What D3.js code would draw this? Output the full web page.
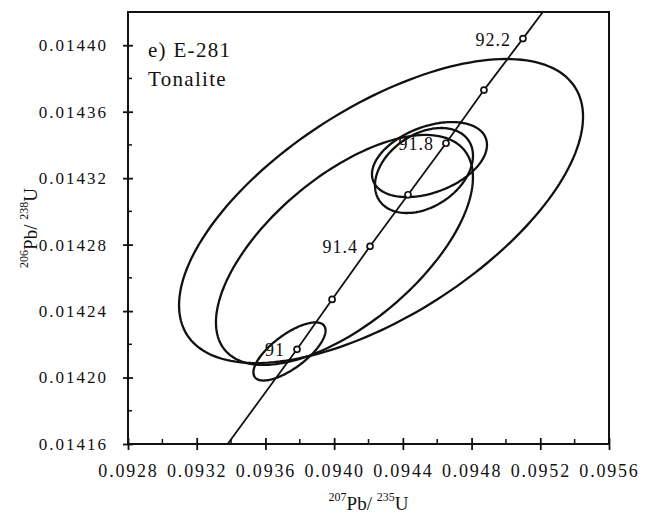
<!DOCTYPE html>
<html>
<head>
<meta charset="utf-8">
<script src="https://cdn.jsdelivr.net/npm/d3@7"></script>
<style>
  html, body { margin: 0; padding: 0; background: #fff; }
  svg text { font-family: "Liberation Serif", "Times New Roman", Times, serif !important; fill: #111; }
</style>
</head>
<body>
<svg id="chart" width="654" height="516"></svg>
<script>
// Axis ticks
const xTicks = [0.0928, 0.0932, 0.0936, 0.0940, 0.0944, 0.0948, 0.0952, 0.0956];
const xTickLabels = ["0.0928", "0.0932", "0.0936", "0.0940", "0.0944", "0.0948", "0.0952", "0.0956"];
const yTicks = [0.01416, 0.01420, 0.01424, 0.01428, 0.01432, 0.01436, 0.01440];
const yTickLabels = ["0.01416", "0.01420", "0.01424", "0.01428", "0.01432", "0.01436", "0.01440"];

// Concordia age markers (Ma) and their ratio coordinates
const concordiaAges = [91.0, 91.2, 91.4, 91.6, 91.8, 92.0, 92.2];
const concordiaLabels = ["91", "", "91.4", "", "91.8", "", "92.2"];
const concordiaX = [0.093784, 0.093988, 0.094209, 0.094430, 0.094651, 0.094872, 0.095099];
const concordiaY = [0.014217, 0.014247, 0.014279, 0.014310, 0.014341, 0.014373, 0.014404];
// Concordia curve ends beyond the markers
const concordiaStart = [0.093380, 0.014160];
const concordiaEnd = [0.095215, 0.014420];

// Error ellipses: centre, half-widths and correlation
const ellipseX   = [0.094273, 0.094060, 0.094555, 0.094523, 0.093740];
const ellipseSX  = [0.0011759, 0.000748, 0.0003347, 0.0002852, 0.0002100];
const ellipseY   = [0.0143002, 0.0142768, 0.0143312, 0.0143246, 0.0142157];
const ellipseSY  = [0.0000915, 0.0000692, 0.00002257, 0.00002558, 0.00001750];
const ellipseRho = [0.62, 0.63, 0.39, 0.35, 0.72];

const sampleTitle = ["e) E-281", "Tonalite"];

const FONT = "Liberation Serif, Times New Roman, serif";
const svg = d3.select("#chart");
const margin = { left: 128, right: 45, top: 12, bottom: 72 };
const W = 654, H = 516;
const x = d3.scaleLinear().domain([0.0928, 0.0956]).range([margin.left, W - margin.right]);
const y = d3.scaleLinear().domain([0.01416, 0.01442]).range([H - margin.bottom, margin.top]);

svg.append("defs").append("clipPath").attr("id", "plot-clip")
  .append("rect")
  .attr("x", x.range()[0]).attr("y", y.range()[1])
  .attr("width", x.range()[1] - x.range()[0])
  .attr("height", y.range()[0] - y.range()[1]);

const plot = svg.append("g").attr("clip-path", "url(#plot-clip)");

// Concordia curve
const curvePts = [concordiaStart]
  .concat(concordiaX.map((v, i) => [v, concordiaY[i]]))
  .concat([concordiaEnd]);
plot.append("path")
  .datum(curvePts)
  .attr("d", d3.line().x(d => x(d[0])).y(d => y(d[1])))
  .attr("fill", "none").attr("stroke", "#111").attr("stroke-width", 1.8);

// Age labels
svg.append("g").selectAll("text")
  .data(concordiaAges.map((a, i) => ({ a, i })).filter(d => concordiaLabels[d.i] !== ""))
  .join("text")
  .attr("x", d => x(concordiaX[d.i]) - 12)
  .attr("y", d => y(concordiaY[d.i]) + 7)
  .attr("text-anchor", "end")
  .attr("font-family", FONT)
  .attr("font-size", 18)
  .attr("letter-spacing", 1)
  .text(d => concordiaLabels[d.i]);

// Error ellipses
const steps = d3.range(0, 361, 2).map(d => d * Math.PI / 180);
ellipseX.forEach((cx, i) => {
  const sx = ellipseSX[i], sy = ellipseSY[i], r = ellipseRho[i];
  const pts = steps.map(t => [
    cx + sx * Math.cos(t),
    ellipseY[i] + sy * (r * Math.cos(t) + Math.sqrt(1 - r * r) * Math.sin(t))
  ]);
  plot.append("path")
    .datum(pts)
    .attr("d", d3.line().x(d => x(d[0])).y(d => y(d[1])).curve(d3.curveLinearClosed))
    .attr("fill", "none").attr("stroke", "#111").attr("stroke-width", 2.3);
});

// Age markers
svg.append("g").selectAll("circle")
  .data(concordiaAges.map((a, i) => i))
  .join("circle")
  .attr("cx", i => x(concordiaX[i]))
  .attr("cy", i => y(concordiaY[i]))
  .attr("r", 3)
  .attr("fill", "#fff").attr("stroke", "#111").attr("stroke-width", 1.7);

// Frame
svg.append("rect")
  .attr("x", x.range()[0]).attr("y", y.range()[1])
  .attr("width", x.range()[1] - x.range()[0])
  .attr("height", y.range()[0] - y.range()[1])
  .attr("fill", "none").attr("stroke", "#111").attr("stroke-width", 2);

// X axis: major ticks cross the frame, minor ticks point inward
const xAxis = svg.append("g").attr("transform", `translate(0,${y.range()[0]})`)
  .call(d3.axisBottom(x).tickValues(xTicks).tickSize(0).tickFormat((d, i) => xTickLabels[i]).tickPadding(20));
xAxis.attr("font-family", FONT);
xAxis.select(".domain").remove();
xAxis.selectAll("text").attr("font-size", 18).attr("letter-spacing", 1.8);
xAxis.selectAll(".tick").append("line").attr("y1", -6).attr("y2", 6)
  .attr("stroke", "#111").attr("stroke-width", 1.8);
const xMinor = d3.range(0, xTicks.length - 1).map(i => (xTicks[i] + xTicks[i + 1]) / 2);
svg.append("g").selectAll("line").data(xMinor).join("line")
  .attr("x1", d => x(d)).attr("x2", d => x(d))
  .attr("y1", y.range()[0]).attr("y2", y.range()[0] - 5)
  .attr("stroke", "#111").attr("stroke-width", 1.5);

// Y axis
const yAxis = svg.append("g").attr("transform", `translate(${x.range()[0]},0)`)
  .call(d3.axisLeft(y).tickValues(yTicks).tickSize(0).tickFormat((d, i) => yTickLabels[i]).tickPadding(20));
yAxis.attr("font-family", FONT);
yAxis.select(".domain").remove();
yAxis.selectAll("text").attr("font-size", 17).attr("letter-spacing", 2);
yAxis.selectAll(".tick").append("line").attr("x1", -5).attr("x2", 5)
  .attr("stroke", "#111").attr("stroke-width", 1.8);
const yMinor = d3.range(0, yTicks.length - 1).map(i => (yTicks[i] + yTicks[i + 1]) / 2);
svg.append("g").selectAll("line").data(yMinor).join("line")
  .attr("x1", x.range()[0]).attr("x2", x.range()[0] + 4)
  .attr("y1", d => y(d)).attr("y2", d => y(d))
  .attr("stroke", "#111").attr("stroke-width", 1.5);

// Sample name
svg.append("g").selectAll("text").data(sampleTitle).join("text")
  .attr("x", 148).attr("y", (d, i) => 57 + i * 29)
  .attr("font-family", FONT)
  .attr("font-size", 21).attr("letter-spacing", 1.3)
  .text(d => d);

// Axis titles with superscript mass numbers
const xTitle = svg.append("text").attr("x", (x.range()[0] + x.range()[1]) / 2).attr("y", 510)
  .attr("text-anchor", "middle").attr("font-family", FONT).attr("font-size", 19);
xTitle.append("tspan").attr("font-size", 12).attr("dy", -9).text("207");
xTitle.append("tspan").attr("dy", 9).text("Pb/ ");
xTitle.append("tspan").attr("font-size", 12).attr("dy", -9).text("235");
xTitle.append("tspan").attr("dy", 9).text("U");

const yTitle = svg.append("text")
  .attr("transform", `translate(37,${(y.range()[0] + y.range()[1]) / 2}) rotate(-90)`)
  .attr("text-anchor", "middle").attr("font-family", FONT).attr("font-size", 19);
yTitle.append("tspan").attr("font-size", 12).attr("dy", -9).text("206");
yTitle.append("tspan").attr("dy", 9).text("Pb/ ");
yTitle.append("tspan").attr("font-size", 12).attr("dy", -9).text("238");
yTitle.append("tspan").attr("dy", 9).text("U");
</script>
</body>
</html>
